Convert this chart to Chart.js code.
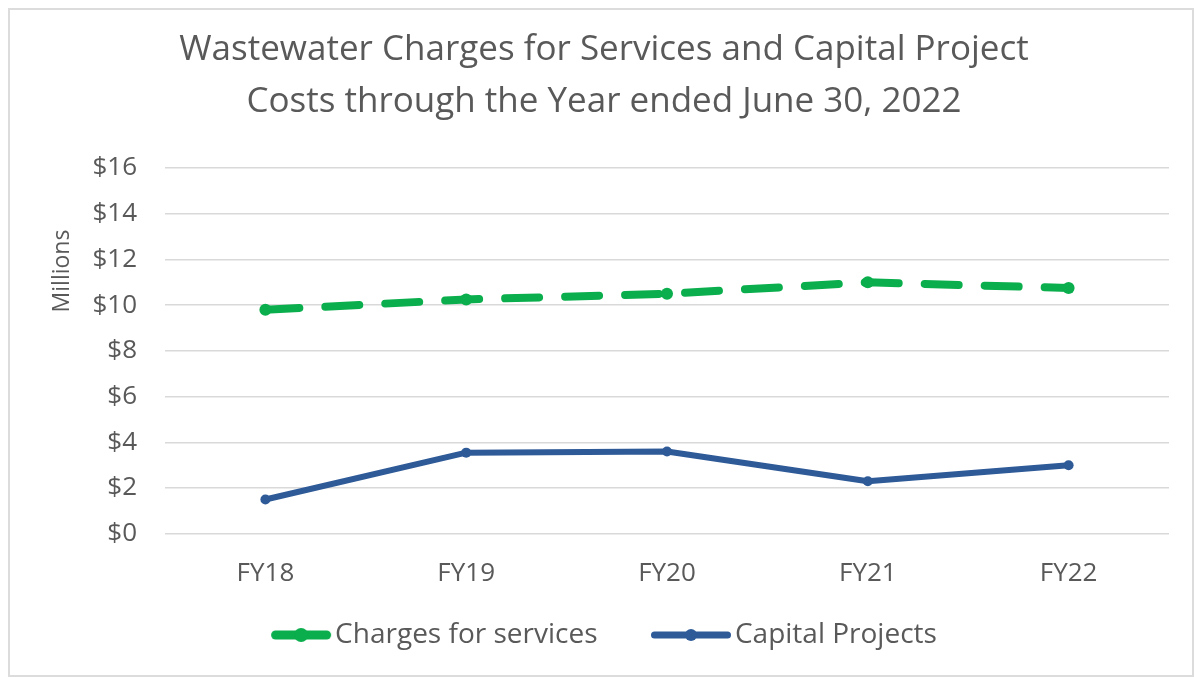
<!DOCTYPE html>
<html>
<head>
<meta charset="utf-8">
<script src="https://cdn.jsdelivr.net/npm/chart.js@4.4.0/dist/chart.umd.min.js"></script>
<style>
  body { margin: 0; background: #fff; }
  #wrap { position: absolute; left: 0; top: 0; width: 1194px; height: 677px; }
  #frame { position: absolute; left: 8px; top: 8px; width: 1182px; height: 665px; border: 2px solid #dcdcdc; pointer-events: none; }
</style>
</head>
<body>
<div id="wrap">
  <canvas id="chart" width="1194" height="677"></canvas>
  <div id="frame"></div>
</div>
<script>
var years = ['FY18', 'FY19', 'FY20', 'FY21', 'FY22'];
var chargesForServices = [9.8, 10.25, 10.5, 11.0, 10.75];
var capitalProjects = [1.5, 3.55, 3.6, 2.3, 3.0];
var yTicks = [0, 2, 4, 6, 8, 10, 12, 14, 16];

var textColor = '#595959';
var green = '#0aae4c';
var blue = '#2e5a98';
var fontName = '"Open Sans", "Liberation Sans", sans-serif';

var legendBox = 50;
var overflow = 24;

// line+marker picture for the legend. image is centered on the legend box and
// is wider than it; the line ends just before the label text like in excel
function legendSample(color, lineLen, lineW, r) {
    var w = legendBox + overflow * 2;
    var end = overflow + legendBox + 10;
    var c = document.createElement('canvas');
    c.width = w;
    c.height = 16;
    var g = c.getContext('2d');
    g.strokeStyle = color;
    g.lineWidth = lineW;
    g.lineCap = 'round';
    g.beginPath();
    g.moveTo(end - lineLen + lineW / 2, 8);
    g.lineTo(end - lineW / 2, 8);
    g.stroke();
    g.fillStyle = color;
    g.beginPath();
    g.arc(end - lineLen / 2, 8, r, 0, Math.PI * 2);
    g.fill();
    return c;
}

var axisTitle = {
    id: 'axisTitle',
    afterDraw: function(chart) {
        var ctx = chart.ctx;
        ctx.save();
        ctx.translate(62, 271);
        ctx.rotate(-Math.PI / 2);
        ctx.font = '23px ' + fontName;
        ctx.fillStyle = textColor;
        ctx.textAlign = 'center';
        ctx.textBaseline = 'middle';
        ctx.fillText('Millions', 0, 0);
        ctx.restore();
    }
};

var canvas = document.getElementById('chart');
var ctx = canvas.getContext('2d');
var myChart = new Chart(ctx, {
    type: 'line',
    data: {
        labels: years,
        datasets: [
            {
                label: 'Charges for services',
                data: chargesForServices,
                borderColor: green,
                backgroundColor: green,
                borderWidth: 8,
                borderDash: [34, 26],
                borderCapStyle: 'round',
                pointRadius: 6,
                pointBorderWidth: 0,
                pointStyle: 'circle',
                tension: 0,
                order: 2
            },
            {
                label: 'Capital Projects',
                data: capitalProjects,
                borderColor: blue,
                backgroundColor: blue,
                borderWidth: 6,
                borderCapStyle: 'round',
                borderJoinStyle: 'round',
                pointRadius: 5,
                pointBorderWidth: 0,
                tension: 0,
                order: 1
            }
        ]
    },
    plugins: [axisTitle],
    options: {
        responsive: false,
        animation: false,
        layout: {
            padding: { left: 39, right: 25, top: 0, bottom: 18 }
        },
        scales: {
            x: {
                offset: true,
                grid: { display: false, drawTicks: false },
                border: { display: false },
                ticks: {
                    color: textColor,
                    font: { family: fontName, size: 26 },
                    padding: 24
                }
            },
            y: {
                min: 0,
                max: 16,
                afterFit: function(scale) { scale.width = 126; },
                afterBuildTicks: function(scale) {
                    scale.ticks = yTicks.map(function(v) { return { value: v }; });
                },
                grid: { color: '#d9d9d9', lineWidth: 1.5, drawTicks: false },
                border: { display: false },
                ticks: {
                    color: textColor,
                    font: { family: fontName, size: 26 },
                    padding: 28,
                    callback: function(v) { return '$' + v; }
                }
            }
        },
        plugins: {
            title: {
                display: true,
                text: ['Wastewater Charges for Services and Capital Project', 'Costs through the Year ended June 30, 2022'],
                color: textColor,
                font: { family: fontName, size: 35, weight: 'normal', lineHeight: 1.486 },
                padding: { top: 24, bottom: 40 }
            },
            legend: {
                position: 'bottom',
                display: true,
                labels: {
                    color: textColor,
                    font: { family: fontName, size: 28 },
                    usePointStyle: true,
                    pointStyleWidth: legendBox,
                    padding: 8,
                    generateLabels: function(chart) {
                        var n = chart.data.datasets.length;
                        return chart.data.datasets.map(function(ds, i) {
                            return {
                                // trailing spaces keep the gap between the two entries
                                text: i < n - 1 ? ds.label + '         ' : ds.label,
                                fontColor: textColor,
                                pointStyle: i === 0 ? legendSample(green, 60, 9, 7) : legendSample(blue, 80, 7, 6),
                                datasetIndex: i,
                                lineWidth: 0
                            };
                        });
                    }
                }
            },
            tooltip: { enabled: false }
        }
    }
});
</script>
</body>
</html>
